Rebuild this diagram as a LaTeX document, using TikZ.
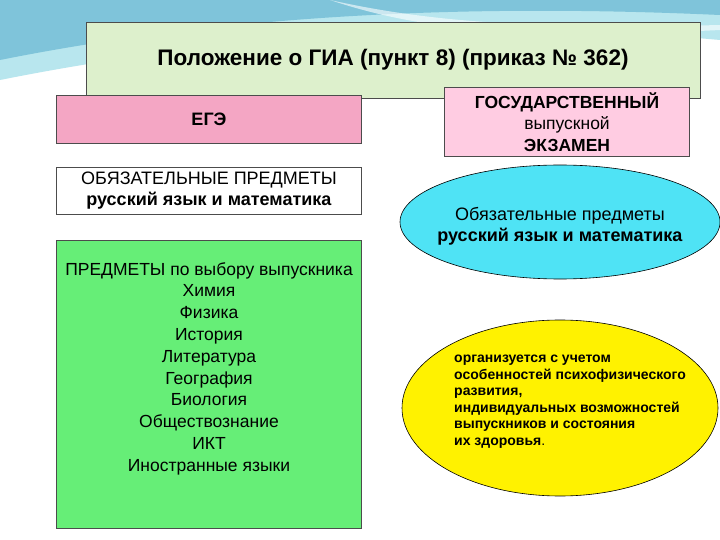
\documentclass[tikz,border=0pt]{standalone}
\usepackage{fontspec}
\setmainfont{Liberation Sans}
\usetikzlibrary{shapes.geometric}
\definecolor{titlegreen}{HTML}{DDF0CC}
\definecolor{egepink}{HTML}{F4A6C4}
\definecolor{gvepink}{HTML}{FFCCE2}
\definecolor{cyanfill}{HTML}{4FE3F5}
\definecolor{greenfill}{HTML}{66EE77}
\definecolor{wave1}{HTML}{7FC4DA}
\definecolor{wave2}{HTML}{B8E6EE}
\begin{document}
\begin{tikzpicture}[x=1pt,y=-1pt,
  box/.style={draw=black!70,line width=0.6pt,inner sep=2pt,align=center},
  oval/.style={draw=black,line width=0.6pt,ellipse,inner sep=0pt},
  txt/.style={font=\fontsize{18}{21}\selectfont,align=center}]
\useasboundingbox (0,0) rectangle (720,540);
\fill[white] (0,0) rectangle (720,540);
% top wave
\fill[wave2] (0,0) -- (720,0) -- (720,40) .. controls (500,20) and (250,30) .. (0,80) -- cycle;
\fill[wave1] (0,0) -- (720,0) -- (720,15) .. controls (500,5) and (250,10) .. (0,60) -- cycle;
\fill[white,opacity=0.6] (330,0) .. controls (420,20) and (520,30) .. (720,25) -- (720,30) .. controls (520,40) and (420,30) .. (330,0) -- cycle;
% boxes
\node[box,fill=titlegreen,minimum width=614,minimum height=76,font=\fontsize{22.5}{26}\selectfont\bfseries] (title) at (393,60) {Положение о ГИА (пункт 8) (приказ № 362)};
\node[box,fill=egepink,minimum width=305,minimum height=48,font=\fontsize{18}{21}\selectfont\bfseries] (ege) at (209,119) {ЕГЭ};
\node[box,fill=gvepink,minimum width=245,minimum height=69,font=\fontsize{17.5}{21.5}\selectfont\bfseries] (gve) at (567,122) {ГОСУДАРСТВЕННЫЙ\\ \mdseries выпускной\\ ЭКЗАМЕН};
\node[box,fill=white,minimum width=305,minimum height=47,txt] (obl) at (209,191) {ОБЯЗАТЕЛЬНЫЕ ПРЕДМЕТЫ\\ \textbf{русский язык и математика}};
\node[oval,fill=cyanfill,minimum width=320,minimum height=114] (obl2) at (560,222) {};
\node[txt,inner sep=0pt] (obl2t) at (560,226) {Обязательные предметы\\ \textbf{русский язык и математика}};
\node[box,fill=greenfill,minimum width=305,minimum height=288] (vyb) at (209,384) {};
\node[anchor=north,align=center,font=\fontsize{17.5}{21.8}\selectfont,inner sep=0pt] (vybt) at (209,262) {ПРЕДМЕТЫ  по выбору выпускника\\ Химия\\ Физика\\ История\\ Литература\\ География\\ Биология\\ Обществознание\\ ИКТ\\ Иностранные языки};
\node[oval,fill=yellow,minimum width=316,minimum height=176] (org) at (560,408) {};
\node[align=left,anchor=north west,font=\fontsize{14}{16.5}\selectfont\bfseries,inner sep=0pt] (orgt) at (454,355) {организуется с учетом\\ особенностей психофизического\\ развития,\\ индивидуальных возможностей\\ выпускников и состояния\\ их здоровья\mdseries.};
\end{tikzpicture}
\end{document}
